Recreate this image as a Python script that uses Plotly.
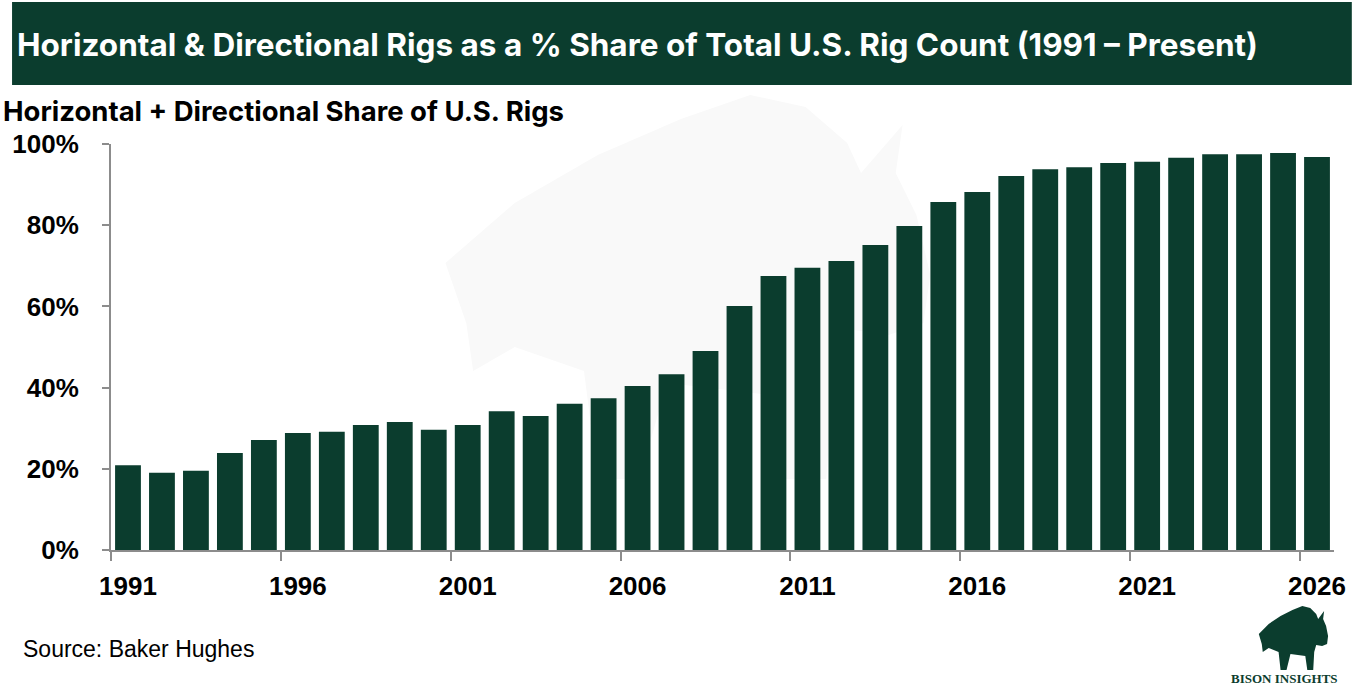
import plotly.graph_objects as go

# data (share of rigs, %)
years = list(range(1991, 2027))
share_pct = [20.9, 19.0, 19.5, 23.9, 27.1, 28.8, 29.1, 30.8, 31.5, 29.6,
             30.8, 34.2, 33.0, 36.0, 37.4, 40.4, 43.3, 49.0, 60.1, 67.5,
             69.5, 71.2, 75.1, 79.8, 85.7, 88.2, 92.1, 93.8, 94.3, 95.3,
             95.6, 96.6, 97.5, 97.5, 97.8, 96.8]
label_years = [1991, 1996, 2001, 2006, 2011, 2016, 2021, 2026]
y_ticks = [0, 20, 40, 60, 80, 100]

GREEN = '#0b3d2e'
AXIS_GREY = '#8c8c8c'

W, H = 1358, 686
L, R, T, B = 102, 20, 144, 136


def px(x, y):
    # page pixel -> paper coords
    return (x - L) / (W - L - R), (H - B - y) / (H - T - B)


# rough bison outline (logo / watermark), in a 70x65 box, y down, facing right
bison_pts = [(0, 28), (10, 18), (22, 10), (34, 4), (44, 0), (52, 2), (58, 8),
             (60, 13), (63, 9), (66, 5), (65, 13), (68, 20), (70, 30),
             (69, 38), (64, 40), (58, 39), (56, 46), (55, 64), (49, 64),
             (47, 50), (32, 48), (28, 64), (22, 64), (20, 46), (10, 42),
             (4, 46), (3, 38)]


def bison_path(x0, y0, sx, sy):
    pts = [px(x0 + a * sx, y0 + b * sy) for a, b in bison_pts]
    return 'M ' + ' L '.join(f'{a:.5f},{b:.5f}' for a, b in pts) + ' Z'


fig = go.Figure()

fig.add_trace(
    go.Bar(
        x=years,
        y=share_pct,
        marker_color=GREEN,
        marker_line_width=0,
        width=0.76,
        hovertemplate='%{x}: %{y:.1f}%<extra></extra>'
    )
)

# faint watermark behind bars
fig.add_shape(type='path', xref='paper', yref='paper',
              path=bison_path(440, 95, 7.0, 6.0),
              fillcolor='#f9f9f9', line_width=0, layer='below')

# title banner
bx0, by0 = px(2, 2)
bx1, by1 = px(1356, 85)
fig.add_shape(type='rect', xref='paper', yref='paper',
              x0=bx0, x1=bx1, y0=by1, y1=by0,
              fillcolor=GREEN, line_width=0, layer='below')

tx, ty = px(5, 45)
fig.add_annotation(
    text='Horizontal & Directional Rigs as a % Share of Total U.S. Rig Count (1991 – Present)',
    xref='paper', yref='paper', x=tx, y=ty,
    xanchor='left', yanchor='middle', showarrow=False,
    font=dict(family='Inter', size=31.5, color='white', weight='bold')
)
sx_, sy_ = px(-9, 111)
fig.add_annotation(
    text='Horizontal + Directional Share of U.S. Rigs',
    xref='paper', yref='paper', x=sx_, y=sy_,
    xanchor='left', yanchor='middle', showarrow=False,
    font=dict(family='Inter', size=27.5, color='black', weight='bold')
)
srx, sry = px(11, 649)
fig.add_annotation(
    text='Source: Baker Hughes',
    xref='paper', yref='paper', x=srx, y=sry,
    xanchor='left', yanchor='middle', showarrow=False,
    font=dict(family='Liberation Sans', size=23, color='black')
)

# logo
fig.add_shape(type='path', xref='paper', yref='paper',
              path=bison_path(1262, 606, 1.0, 1.0),
              fillcolor=GREEN, line_width=0)
lx, ly = px(1288, 678)
fig.add_annotation(
    text='BISON INSIGHTS',
    xref='paper', yref='paper', x=lx, y=ly,
    xanchor='center', yanchor='middle', showarrow=False,
    font=dict(family='Liberation Serif', size=13, color=GREEN, weight='bold')
)

fig.update_xaxes(
    range=[1990.5, 2026.5],
    tickmode='array',
    tickvals=label_years,
    ticktext=[str(y) for y in label_years],
    ticks='',
    ticklabelstandoff=12,
    showline=True, linecolor=AXIS_GREY, linewidth=2,
    showgrid=False, zeroline=False,
    tickfont=dict(family='Liberation Sans', size=26, color='black', weight='bold'),
    minor=dict(tickmode='array', tickvals=[y - 0.5 for y in label_years],
               ticks='outside', ticklen=9, tickwidth=2, tickcolor=AXIS_GREY)
)
fig.update_yaxes(
    range=[0, 100],
    tickmode='array',
    tickvals=y_ticks,
    ticktext=[f'{v}%' for v in y_ticks],
    ticks='outside', ticklen=7, tickwidth=2, tickcolor=AXIS_GREY,
    ticklabelstandoff=18,
    showline=True, linecolor=AXIS_GREY, linewidth=2,
    showgrid=False, zeroline=False,
    tickfont=dict(family='Liberation Sans', size=26, color='black', weight='bold')
)

fig.update_layout(
    width=W, height=H,
    margin=dict(l=L, r=R, t=T, b=B),
    plot_bgcolor='rgba(0,0,0,0)',
    paper_bgcolor='white',
    showlegend=False
)

# page body has an 8px default margin; drop it so the figure sits at 0,0
fig.write_html('out.html', config={'displayModeBar': False},
               post_script="document.body.style.margin='0';")
